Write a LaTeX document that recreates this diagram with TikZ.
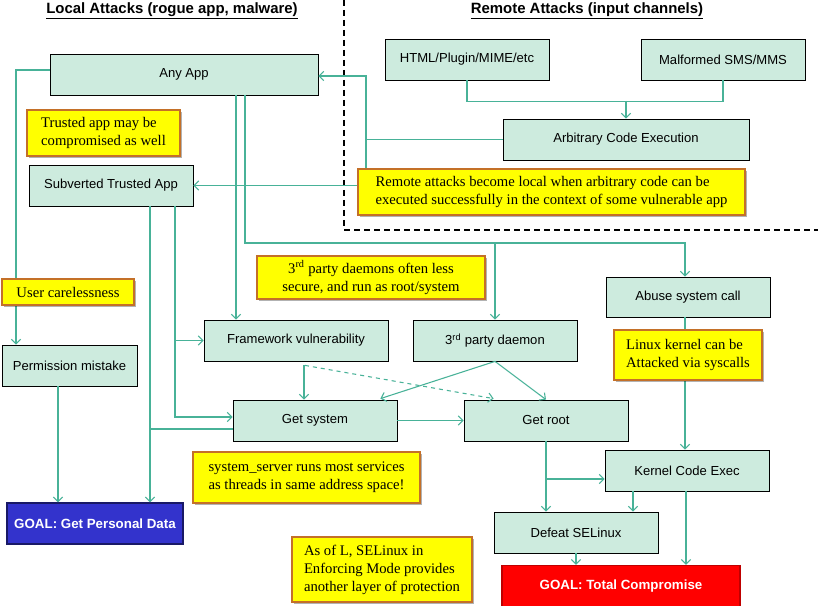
\documentclass[tikz,border=0pt]{standalone}
\usepackage{fontspec}
\setmainfont{Liberation Serif}
\setsansfont{Liberation Sans}
\usetikzlibrary{arrows.meta,calc,shadows}
\definecolor{boxfill}{RGB}{205,235,222}
\definecolor{connteal}{RGB}{72,178,152}
\definecolor{noteedge}{RGB}{196,112,40}
\definecolor{noteyellow}{RGB}{255,255,0}
\definecolor{goalblue}{RGB}{51,51,204}
\definecolor{goalred}{RGB}{255,0,0}
\begin{document}
\begin{tikzpicture}[x=0.75pt,y=-0.75pt,
  box/.style={draw=black,line width=0.6pt,fill=boxfill,font=\sffamily\fontsize{9.8}{12}\selectfont,minimum height=30.75pt,inner sep=0pt,align=center},
  note/.style={draw=noteedge,line width=0.8pt,fill=noteyellow,font=\rmfamily\fontsize{11}{13.5}\selectfont,inner sep=0pt,align=left,drop shadow={shadow xshift=1.3pt,shadow yshift=-1.3pt,fill=black,opacity=0.3}},
  goal/.style={line width=0.8pt,font=\sffamily\bfseries\fontsize{10}{12}\selectfont,text=white,minimum height=30.75pt,inner sep=0pt},
  conn/.style={draw=connteal,line width=0.8pt},
  arr/.style={conn,-{Straight Barb[length=3.5pt,width=7pt]}},
  hdr/.style={font=\sffamily\bfseries\fontsize{11.2}{13}\selectfont,inner sep=0pt},
  divider/.style={draw=black,line width=1.8pt,dash pattern=on 4.5pt off 3pt}
]
\fill[white] (0,0) rectangle (818,606);
\useasboundingbox (0,0) rectangle (818,606);

% headers
\node[hdr] (hlocal) at (172,11) {\underline{Local Attacks (rogue app, malware)}};
\node[hdr] (hremote) at (587,11) {\underline{Remote Attacks (input channels)}};

% divider
\draw[divider] (344,0) -- (344,230) -- (818,230);

% boxes
\node[box,minimum width=201pt] (anyapp) at (184,74.5) {Any App};
\node[box,minimum width=123pt] (subv) at (111,185.5) {Subverted Trusted App};
\node[box,minimum width=123pt] (html) at (467,59.5) {HTML/Plugin/MIME/etc};
\node[box,minimum width=123pt] (sms) at (723,59.5) {Malformed SMS/MMS};
\node[box,minimum width=184.5pt] (ace) at (626,139.5) {Arbitrary Code Execution};
\node[box,minimum width=138pt] (fw) at (296,340.5) {Framework vulnerability};
\node[box,minimum width=123pt] (daemon) at (495,340.5) {3\textsuperscript{rd} party daemon};
\node[box,minimum width=123pt,minimum height=30pt] (abuse) at (688,297) {Abuse system call};
\node[box,minimum width=101.25pt] (perm) at (69.5,365.5) {Permission mistake};
\node[box,minimum width=123pt] (getsys) at (315,420.5) {Get system};
\node[box,minimum width=123pt] (getroot) at (546,420.5) {Get root};
\node[box,minimum width=123pt] (kernel) at (687,470.5) {Kernel Code Exec};
\node[box,minimum width=123pt] (selinux) at (576,532.5) {Defeat SELinux};
\node[goal,draw=goalblue!50!black,fill=goalblue,minimum width=132pt] (goalpd) at (95,523.5) {GOAL: Get Personal Data};
\node[goal,draw=goalred!75!black,fill=goalred,minimum width=178.5pt] (goaltc) at (621,586) {GOAL: Total Compromise};

% connectors
\draw[arr] (anyapp.west |- 0,70) -| (16,0 |- perm.north);
\draw[conn] (ace.west) -- (366,0 |- ace.west);
\draw[arr] (366,0 |- ace.west) |- (anyapp.east |- 0,76);
\draw[arr] (366,0 |- ace.west) |- (subv.east);
\draw[conn] (html.south) -- ++(0,21) -| (sms.south);
\draw[arr] (ace.north |- 0,101) -- (ace.north);
\draw[arr] (236,0 |- anyapp.south) -- (236,0 |- fw.north);
\draw[arr] (245,0 |- anyapp.south) |- (685,243) -- (685,0 |- abuse.north);
\draw[arr] (daemon.north |- 0,243) -- (daemon.north);
\draw[arr] (175,0 |- subv.south) |- (getsys.west |- 0,417);
\draw[arr] (175,0 |- fw.west) -- (fw.west);
\draw[arr] (150,0 |- subv.south) -- (150,0 |- goalpd.north);
\draw[conn] (getsys.west |- 0,429) -- (150,429);
\draw[arr] (58,0 |- perm.south) -- (58,0 |- goalpd.north);
\draw[arr] (304,0 |- fw.south) ++(0,4) -- (304,0 |- getsys.north);
\draw[arr,dashed] (304,0 |- fw.south) ++(1,4) -- ($(getroot.north west)+(30,-1)$);
\draw[arr] (daemon.south) -- ($(getsys.north east)+(-17,-1)$);
\draw[arr] (daemon.south) -- (getroot.north);
\draw[arr] (getsys.east) -- (getroot.west);
\draw[arr] (685,0 |- abuse.south) -- (685,0 |- kernel.north);
\draw[arr] (getroot.south) -- (getroot.south |- selinux.north);
\draw[arr] (getroot.south |- 0,479) -- (kernel.west |- 0,479);
\draw[arr] (633,0 |- kernel.south) -- (633,0 |- selinux.north);
\draw[arr] (686,0 |- kernel.south) -- (686,0 |- goaltc.north);
\draw[arr] (selinux.south) -- (selinux.south |- goaltc.north);

% notes
\node[note,minimum width=114.75pt,minimum height=34.5pt] (ntrusted) at (103.5,133) {Trusted app may be\\compromised as well};
\node[note,minimum width=290.25pt,minimum height=34.5pt] (nremote) at (551.5,192) {Remote attacks become local when arbitrary code can be\\executed successfully in the context of some vulnerable app};
\node[note,align=center,minimum width=171pt,minimum height=32.25pt] (ndaemons) at (371,277.5) {3\textsuperscript{rd} party daemons often less\\secure, and run as root/system};
\node[note,align=center,minimum width=99pt,minimum height=19.5pt] (ncareless) at (68,292) {User carelessness};
\node[note,minimum width=111pt,minimum height=37.5pt] (nlinux) at (688,355) {Linux kernel can be\\Attacked via syscalls};
\node[note,align=center,minimum width=170.25pt,minimum height=38.25pt] (nsys) at (306.5,477.5) {system\_server runs most services\\as threads in same address space!};
\node[note,minimum width=135pt,minimum height=48.75pt] (nasofl) at (382,569.5) {As of L, SELinux in\\Enforcing Mode provides\\another layer of protection};
\end{tikzpicture}
\end{document}
